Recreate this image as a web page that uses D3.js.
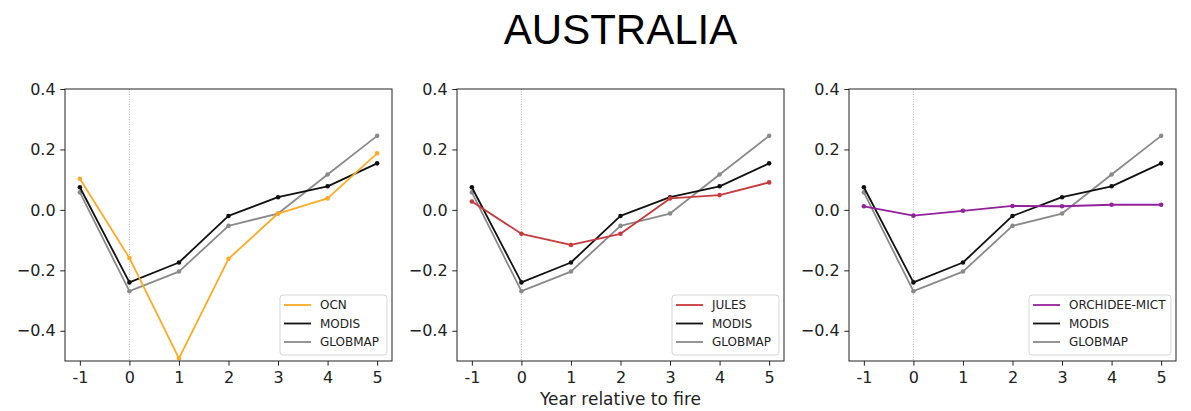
<!DOCTYPE html>
<html>
<head>
<meta charset="utf-8">
<script src="https://cdn.jsdelivr.net/npm/d3@7/dist/d3.min.js"></script>
<style>
  html, body { margin: 0; padding: 0; background: #fff; }
  svg { display: block; }
  .tick text { font-family: "DejaVu Sans", sans-serif; fill: #222; }
</style>
</head>
<body>
<svg id="chart" width="1191" height="411"></svg>
<script>
// Years relative to the fire event
const years = [-1, 0, 1, 2, 3, 4, 5];
const xTickLabels = ["-1", "0", "1", "2", "3", "4", "5"];
const yTicks = [-0.4, -0.2, 0.0, 0.2, 0.4];

// Observational products (shown in every panel)
const modis   = [0.075, -0.240, -0.174, -0.020, 0.042, 0.078, 0.154];
const globmap = [0.058, -0.269, -0.204, -0.053, -0.012, 0.117, 0.245];

// Model series, one per panel
const ocn      = [0.103, -0.159, -0.491, -0.162, -0.012, 0.038, 0.187];
const jules    = [0.028, -0.079, -0.116, -0.079, 0.038, 0.049, 0.091];
const orchidee = [0.012, -0.019, -0.003, 0.013, 0.012, 0.017, 0.017];

const modelNames  = ["OCN", "JULES", "ORCHIDEE-MICT"];
const modelSeries = [ocn, jules, orchidee];
const modelColors = ["#ffaa22", "#c8393b", "#92229a"];

const svg = d3.select("#chart");

svg.append("text")
  .attr("x", 620.5).attr("y", 44)
  .attr("text-anchor", "middle")
  .attr("font-family", "Liberation Sans, Arial, sans-serif")
  .attr("font-size", 42)
  .attr("fill", "#000")
  .text("AUSTRALIA");

const panelW = 327, panelH = 272, panelTop = 89, panelLefts = [65, 457, 849];

const x = d3.scaleLinear().domain([-1.3, 5.3]).range([0, panelW]);
const y = d3.scaleLinear().domain([-0.5, 0.4]).range([panelH, 0]);

const line = d3.line().x((d, i) => x(years[i])).y(d => y(d));

modelNames.forEach((name, p) => {
  const g = svg.append("g").attr("transform", `translate(${panelLefts[p]},${panelTop})`);

  // zero-year marker
  g.append("line")
    .attr("x1", x(0)).attr("x2", x(0))
    .attr("y1", 0).attr("y2", panelH)
    .attr("stroke", "#999").attr("stroke-width", 0.7)
    .attr("stroke-dasharray", "1,1.5");

  const series = [
    { name: name, values: modelSeries[p], color: modelColors[p] },
    { name: "MODIS", values: modis, color: "#111111" },
    { name: "GLOBMAP", values: globmap, color: "#8a8a8a" }
  ];

  // draw GLOBMAP first, then MODIS, then the model on top
  [2, 1, 0].forEach(k => {
    const s = series[k];
    g.append("path")
      .attr("d", line(s.values))
      .attr("fill", "none")
      .attr("stroke", s.color)
      .attr("stroke-width", 1.8)
      .attr("stroke-linejoin", "round");
    g.selectAll(null).data(s.values).enter().append("circle")
      .attr("cx", (d, i) => x(years[i]))
      .attr("cy", d => y(d))
      .attr("r", 2.3)
      .attr("fill", s.color);
  });

  // axes
  const xAxis = d3.axisBottom(x).tickValues(years)
    .tickFormat((d, i) => xTickLabels[i]).tickSize(4.7).tickPadding(4.7);
  const yAxis = d3.axisLeft(y).tickValues(yTicks)
    .tickFormat(d => d3.format(".1f")(d).replace("-", "\u2212")).tickSize(4.7).tickPadding(4.7);

  const gx = g.append("g").attr("transform", `translate(0,${panelH})`).call(xAxis);
  const gy = g.append("g").call(yAxis);
  [gx, gy].forEach(a => {
    a.select(".domain").remove();
    a.selectAll(".tick line").attr("stroke", "#222").attr("stroke-width", 1);
    a.selectAll(".tick text").attr("font-size", 16);
  });
  gx.selectAll(".tick text").attr("dy", "0.8em");

  g.append("rect")
    .attr("x", 0).attr("y", 0).attr("width", panelW).attr("height", panelH)
    .attr("fill", "none").attr("stroke", "#222").attr("stroke-width", 1);

  // legend
  const legW = name.length > 8 ? 142 : 107;
  const legX = panelW - 5 - legW, legY = 206;
  const leg = g.append("g").attr("transform", `translate(${legX},${legY})`);
  leg.append("rect")
    .attr("width", legW).attr("height", 60).attr("rx", 3)
    .attr("fill", "rgba(255,255,255,0.85)")
    .attr("stroke", "#d6d6d6").attr("stroke-width", 1);
  series.forEach((s, k) => {
    const ly = 10 + k * 18.5;
    leg.append("line")
      .attr("x1", 4).attr("x2", 31).attr("y1", ly).attr("y2", ly)
      .attr("stroke", s.color).attr("stroke-width", 1.8);
    leg.append("text")
      .attr("x", 40).attr("y", ly).attr("dy", "0.36em")
      .attr("font-family", "DejaVu Sans, sans-serif")
      .attr("font-size", 12)
      .attr("fill", "#222")
      .text(s.name);
  });
});

svg.append("text")
  .attr("x", panelLefts[1] + panelW / 2).attr("y", 405)
  .attr("text-anchor", "middle")
  .attr("font-family", "DejaVu Sans, sans-serif")
  .attr("font-size", 17)
  .attr("fill", "#222")
  .text("Year relative to fire");
</script>
</body>
</html>
